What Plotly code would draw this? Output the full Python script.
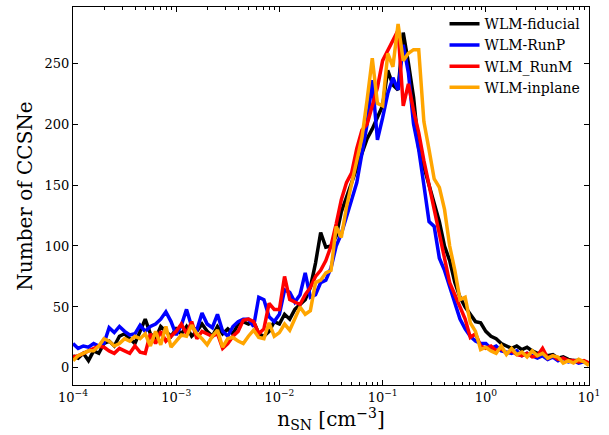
import numpy as np
import plotly.graph_objects as go

# bin centres: log10(n_SN) from -4 to 1 in steps of 0.05
log_n = np.round(np.arange(-4.0, 1.0001, 0.05), 3)
n_sn = 10 ** log_n

fiducial = [10, 8, 12, 6, 14, 12, 20, 22, 18, 26,
            28, 24, 20, 30, 40, 28, 24, 34, 30, 26,
            32, 28, 34, 26, 30, 36, 30, 26, 34, 28,
            32, 28, 36, 38, 36, 38, 28, 26, 30, 38,
            36, 44, 40, 48, 52, 56, 66, 86, 111, 99,
            100, 108, 128, 140, 150, 162, 175, 188, 196, 205,
            215, 244, 232, 228, 275, 250, 222, 180, 165, 152,
            135, 120, 100, 88, 70, 58, 50, 44, 38, 37,
            30, 26, 24, 20, 18, 16, 18, 15, 17, 14,
            12, 12, 10, 11, 8, 9, 7, 6, 6, 5, 4]

runP = [20, 16, 18, 17, 20, 18, 20, 33, 29, 34,
        30, 27, 28, 35, 30, 34, 36, 40, 46, 38,
        27, 35, 48, 34, 31, 45, 36, 33, 44, 30,
        26, 34, 38, 40, 40, 34, 58, 56, 42, 38,
        44, 64, 62, 54, 60, 78, 58, 60, 70, 72,
        82, 100, 110, 125, 138, 152, 175, 200, 236, 187,
        205, 225, 238, 228, 265, 242, 200, 179, 150, 120,
        116, 90, 80, 66, 52, 40, 32, 26, 22, 20,
        20, 16, 18, 14, 13, 12, 14, 10, 12, 10,
        8, 10, 7, 9, 6, 8, 5, 6, 4, 5, 4]

runM = [9, 10, 12, 14, 16, 18, 17, 14, 12, 16,
        14, 12, 18, 13, 12, 28, 20, 30, 22, 26,
        30, 36, 28, 38, 24, 30, 28, 26, 28, 16,
        20, 26, 30, 39, 40, 38, 28, 32, 53, 48,
        48, 75, 56, 54, 52, 60, 66, 75, 80, 88,
        100, 118, 138, 152, 160, 180, 195, 200, 215, 230,
        252, 260, 268, 277, 215, 233, 211, 193, 170, 150,
        130, 110, 88, 70, 60, 50, 40, 25, 28, 18,
        16, 18, 14, 16, 12, 14, 11, 10, 12, 9,
        10, 16, 8, 10, 7, 8, 6, 6, 5, 6, 4]

inplane = [6, 10, 12, 14, 14, 18, 24, 22, 18, 20,
           24, 22, 26, 24, 28, 18, 30, 19, 34, 17,
           22, 27, 26, 35, 28, 24, 19, 26, 31, 17,
           24, 25, 22, 20, 26, 31, 25, 24, 37, 26,
           29, 36, 31, 40, 50, 44, 47, 70, 72, 78,
           80, 116, 107, 132, 150, 170, 189, 220, 254, 217,
           215, 258, 247, 282, 252, 258, 261, 261, 202, 179,
           155, 148, 130, 100, 80, 56, 58, 37, 30, 15,
           17, 14, 12, 18, 11, 16, 11, 13, 9, 14,
           10, 12, 8, 10, 9, 4, 6, 4, 7, 5, 2]

series_names = ["WLM-fiducial", "WLM-RunP", "WLM_RunM", "WLM-inplane"]
series_values = [fiducial, runP, runM, inplane]
series_colors = ["#000000", "#0000ff", "#ff0000", "#ffa500"]

x_tickvals = [1e-4, 1e-3, 1e-2, 1e-1, 1e0, 1e1]
x_ticktext = ["10<sup>\u22124</sup>", "10<sup>\u22123</sup>", "10<sup>\u22122</sup>",
              "10<sup>\u22121</sup>", "10<sup>0</sup>", "10<sup>1</sup>"]
y_tickvals = [0, 50, 100, 150, 200, 250]

fig = go.Figure()
for name, vals, col in zip(series_names, series_values, series_colors):
    fig.add_trace(go.Scatter(x=n_sn, y=vals, mode="lines", name=name,
                             line=dict(color=col, width=3.5)))

font_family = "DejaVu Serif"
fig.update_layout(
    width=609, height=435,
    margin=dict(l=73, r=20, t=7, b=50),
    paper_bgcolor="white", plot_bgcolor="white",
    font=dict(family=font_family, size=13, color="black"),
    showlegend=True,
    legend=dict(x=0.72, y=0.997, xanchor="left", yanchor="top",
                bgcolor="rgba(0,0,0,0)", borderwidth=0,
                font=dict(family=font_family, size=14),
                tracegroupgap=0, itemwidth=30),
)
fig.update_xaxes(
    type="log", range=[-4, 1],
    tickvals=x_tickvals, ticktext=x_ticktext,
    ticks="inside", ticklen=5, tickwidth=1, tickcolor="black",
    showline=True, linecolor="black", linewidth=1.2, mirror="allticks",
    showgrid=False, zeroline=False,
    minor=dict(ticks="inside", ticklen=3, tickcolor="black", showgrid=False,
               tickvals=[m * 10.0 ** e for e in range(-4, 1) for m in range(2, 10)]),
    title=dict(text="n<sub>SN</sub> [cm<sup>\u22123</sup>]", font=dict(size=20), standoff=4),
    tickfont=dict(size=13),
)
fig.update_yaxes(
    range=[-14, 296],
    tickvals=y_tickvals,
    ticks="inside", ticklen=5, tickwidth=1, tickcolor="black",
    showline=True, linecolor="black", linewidth=1.2, mirror="allticks",
    showgrid=False, zeroline=False,
    title=dict(text="Number of CCSNe", font=dict(size=20), standoff=6),
    tickfont=dict(size=13),
)

fig.write_html("out.html")
